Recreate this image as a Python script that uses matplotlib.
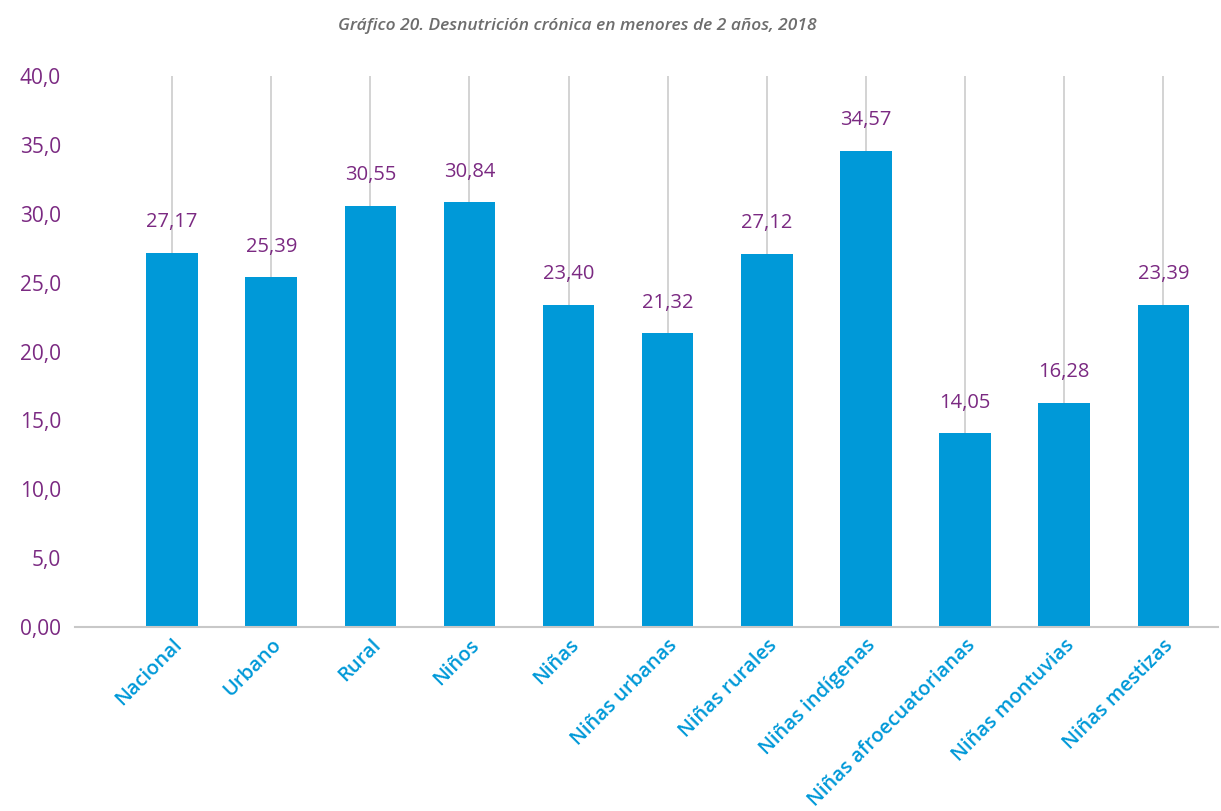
import matplotlib.pyplot as plt
from matplotlib.ticker import FixedLocator, FixedFormatter

categories = ['Nacional', 'Urbano', 'Rural', 'Niños', 'Niñas', 'Niñas urbanas',
              'Niñas rurales', 'Niñas indígenas', 'Niñas afroecuatorianas',
              'Niñas montuvias', 'Niñas mestizas']
values = [27.17, 25.39, 30.55, 30.84, 23.40, 21.32, 27.12, 34.57, 14.05, 16.28, 23.39]
y_ticks = [0, 5, 10, 15, 20, 25, 30, 35, 40]
y_tick_labels = ['0,00', '5,0', '10,0', '15,0', '20,0', '25,0', '30,0', '35,0', '40,0']

BLUE = '#0099d8'
PURPLE = '#7b2a82'
GREY = '#6d6d6d'

plt.rcParams['font.family'] = ['Open Sans', 'DejaVu Sans']

fig = plt.figure(figsize=(12.21, 8.11), dpi=100)
ax = fig.add_axes([0.0614, 0.227, 0.936, 0.679])

x = list(range(len(categories)))

# vertical guide lines behind each bar
for xi in x:
    ax.axvline(xi, color='#cccccc', linewidth=1.2, zorder=0)

ax.bar(x, values, width=0.52, color=BLUE, zorder=2)

# value labels above the bars
for xi, v in zip(x, values):
    ax.annotate(f'{v:.2f}'.replace('.', ','), xy=(xi, v), xytext=(0, 15),
                textcoords='offset points', ha='center', va='bottom',
                fontsize=14.5, color=PURPLE, zorder=3)

ax.set_xlim(-0.98, 10.55)
ax.set_ylim(0, 40)

ax.yaxis.set_major_locator(FixedLocator(y_ticks))
ax.yaxis.set_major_formatter(FixedFormatter(y_tick_labels))
ax.tick_params(axis='y', length=0, pad=10, labelsize=15, labelcolor=PURPLE)

ax.set_xticks(x)
ax.set_xticklabels(categories, rotation=45, ha='right', rotation_mode='anchor',
                   fontsize=14.5, fontweight='semibold', color=BLUE)
ax.tick_params(axis='x', length=0, pad=6)

for side in ['top', 'right', 'left']:
    ax.spines[side].set_visible(False)
ax.spines['bottom'].set_color('#c8c8c8')
ax.spines['bottom'].set_linewidth(1.5)

fig.text(0.473, 0.968, 'Gráfico 20. Desnutrición crónica en menores de 2 años, 2018',
         ha='center', va='center', fontsize=12.5, style='italic', color=GREY,
         fontweight='semibold')

fig.savefig('out.png', dpi=100)
